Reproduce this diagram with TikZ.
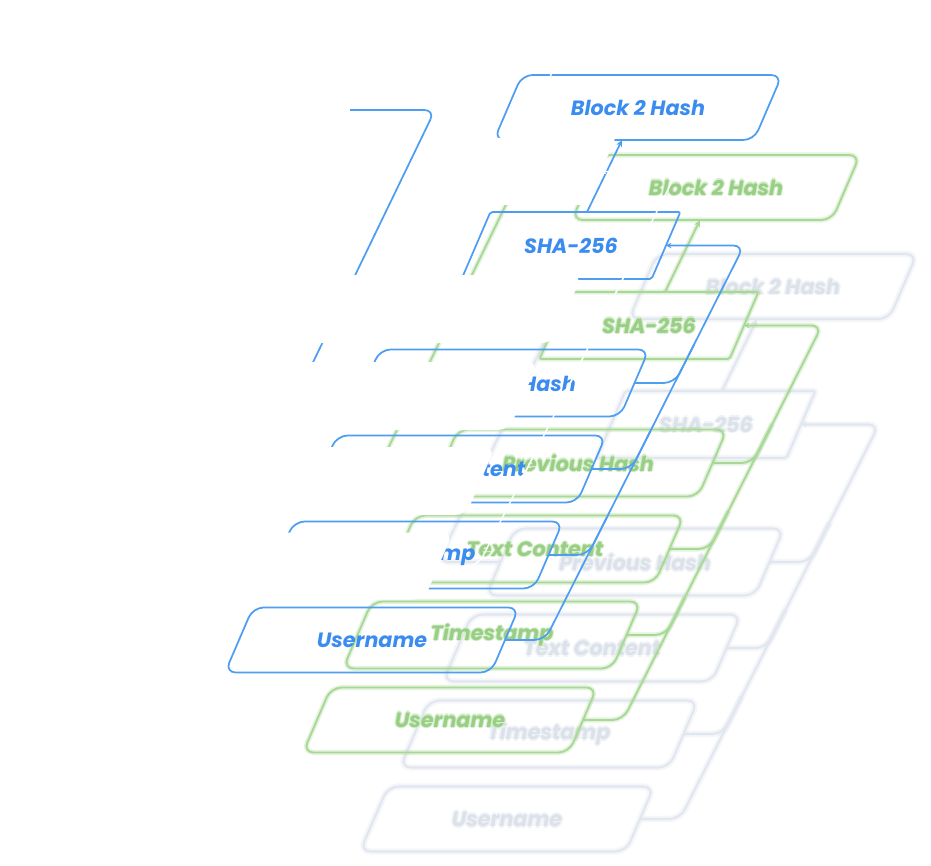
\documentclass[tikz,border=0pt]{standalone}
\usepackage{fontspec}
\newfontfamily\pop{Poppins}
\usetikzlibrary{arrows.meta,calc}
\definecolor{bline}{HTML}{4D9DF2}
\definecolor{btext}{HTML}{3B8CF0}
\definecolor{gline}{HTML}{A8D895}
\definecolor{gtext}{HTML}{98CF84}
\definecolor{gtextglow}{HTML}{D6EDCD}
\definecolor{eline}{HTML}{E2E7EF}
\definecolor{etext}{HTML}{DCE2EA}
\definecolor{etextglow}{HTML}{EFF2F6}
\newcommand\smear[4]{%
 \makebox[0pt]{\textcolor{#2}{\raisebox{#1}{#4}}}%
 \makebox[0pt]{\textcolor{#2}{\raisebox{-#1}{#4}}}%
 \makebox[0pt]{\textcolor{#2}{\hspace*{#1}\hspace*{#1}#4}}%
 \makebox[0pt]{\textcolor{#2}{#4\hspace*{#1}\hspace*{#1}}}%
 \makebox[0pt]{\textcolor{#3}{#4}}}
\newcommand\btx[1]{\textcolor{btext}{#1}}
\newcommand\gtx[1]{\smear{0.9pt}{gtextglow}{gtext}{#1}}
\newcommand\etx[1]{\smear{1.4pt}{etextglow}{etext}{#1}}
\newcommand\skb[8]{%
  \pgfmathsetmacro\skbx{#2}\pgfmathsetmacro\skby{#3}%
  \pgfmathsetmacro\skbw{#4/2}\pgfmathsetmacro\skbh{#5/2}\pgfmathsetmacro\skbs{0.43*#5/2}%
  \path[#6,rounded corners=#8] (\skbx+\skbs,\skby-\skbh) -- (\skbx+\skbw+\skbs,\skby-\skbh) -- (\skbx+\skbw-\skbs,\skby+\skbh) -- (\skbx-\skbw-\skbs,\skby+\skbh) -- (\skbx-\skbw+\skbs,\skby-\skbh) -- cycle;
  \node[lbl] (#1) at (\skbx,\skby) {#7};
  \coordinate (#1-r) at (\skbx+\skbw,\skby);
  \coordinate (#1-l) at (\skbx-\skbw,\skby);
  \coordinate (#1-t) at (\skbx+16,\skby-\skbh);
  \coordinate (#1-b) at (\skbx-16,\skby+\skbh);
}
\newcommand\drawlayer[5]{%
 \skb{#1B}{638+#2}{107.5+#3}{260}{65}{#4}{#5{Block 2 Hash}}{8pt}
 \skb{#1S}{571+#2}{245.5+#3}{190}{67}{#4}{#5{SHA-256}}{1.5pt}
 \skb{#1P}{500+#2}{383+#3}{269}{67}{#4}{#5{Previous Hash}}{8pt}
 \skb{#1T}{457+#2}{469+#3}{269}{67}{#4}{#5{Text Content}}{8pt}
 \skb{#1M}{414+#2}{555+#3}{269}{67}{#4}{#5{Timestamp}}{8pt}
 \skb{#1U}{372+#2}{640+#3}{266}{65}{#4}{#5{Username}}{8pt}
 \draw[#4,-{Stealth[length=5pt,width=4.5pt]}] (#1S-t) -- (#1B-b);
 \coordinate (#1k1) at (744+#2,245.5+#3);
 \coordinate (#1k2) at (545+#2,640+#3);
 \draw[#4,rounded corners=8pt,{Stealth[length=4pt,width=4pt]}-] (#1S-r) -- (#1k1) -- (#1k2) -- (#1U-r);
 \draw[#4,rounded corners=8pt] (#1P-r) -- ($(#1k1)!0.3485!(#1k2)$) -- ($(#1k1)!0.25!(#1k2)$);
 \draw[#4,rounded corners=8pt] (#1T-r) -- ($(#1k1)!0.5665!(#1k2)$) -- ($(#1k1)!0.47!(#1k2)$);
 \draw[#4,rounded corners=8pt] (#1M-r) -- ($(#1k1)!0.7845!(#1k2)$) -- ($(#1k1)!0.69!(#1k2)$);
 \coordinate (#1f0) at (350+#2,110+#3);
 \coordinate (#1f1) at (435+#2,110+#3);
 \coordinate (#1f2) at (303+#2,383+#3);
 \draw[#4,rounded corners=8pt] (#1f0) -- (#1f1) -- (#1f2) -- (#1P-l);
}
\tikzset{
 lbl/.style={inner sep=0pt, font=\pop\bfseries\itshape\fontsize{15.5}{16}\selectfont},
 blueln/.style={draw=bline, line width=1.3pt},
 greenln/.style={draw=gline, line width=1.4pt, preaction={draw=gline, line width=3.8pt, draw opacity=0.3}},
 greyln/.style={draw=eline, line width=1.6pt, preaction={draw=eline, line width=4.8pt, draw opacity=0.35}},
 patch/.style={fill=white},
 whiteln/.style={draw=white, line width=1pt},
}
\begin{document}
\begin{tikzpicture}[x=0.75pt,y=-0.75pt]
\fill[white] (0,0) rectangle (931,866);
\useasboundingbox (0,0) rectangle (931,866);
% back layer (grey)
\drawlayer{e}{135}{179}{greyln}{\etx}
% middle layer (green)
\drawlayer{g}{78}{80}{greenln}{\gtx}
% front layer (blue)
\drawlayer{b}{0}{0}{blueln}{\btx}
% white front layer
\skb{zS}{506}{171.5}{190}{67}{patch}{}{1.5pt}
\skb{zP}{433}{309}{269}{68}{patch}{}{8pt}
\skb{zT}{389}{396}{269}{68}{patch}{}{8pt}
\skb{zM}{346}{481}{269}{68}{patch}{}{8pt}
\skb{zU}{304}{566}{269}{67}{patch}{}{8pt}
\coordinate (zBb) at (555,66);
\coordinate (zk1) at (677,171.5);
\coordinate (zk2) at (478,566);
\draw[whiteln,-{Stealth[length=5pt,width=4.5pt]}] (zS-t) -- (zBb);
\draw[whiteln,rounded corners=8pt,{Stealth[length=4pt,width=4pt]}-] (zS-r) -- (zk1) -- (zk2) -- (zU-r);
\draw[whiteln,rounded corners=8pt] (zP-r) -- ($(zk1)!0.3485!(zk2)$) -- ($(zk1)!0.25!(zk2)$);
\draw[whiteln,rounded corners=8pt] (zT-r) -- ($(zk1)!0.5665!(zk2)$) -- ($(zk1)!0.47!(zk2)$);
\draw[whiteln,rounded corners=8pt] (zM-r) -- ($(zk1)!0.7845!(zk2)$) -- ($(zk1)!0.69!(zk2)$);
\end{tikzpicture}
\end{document}
